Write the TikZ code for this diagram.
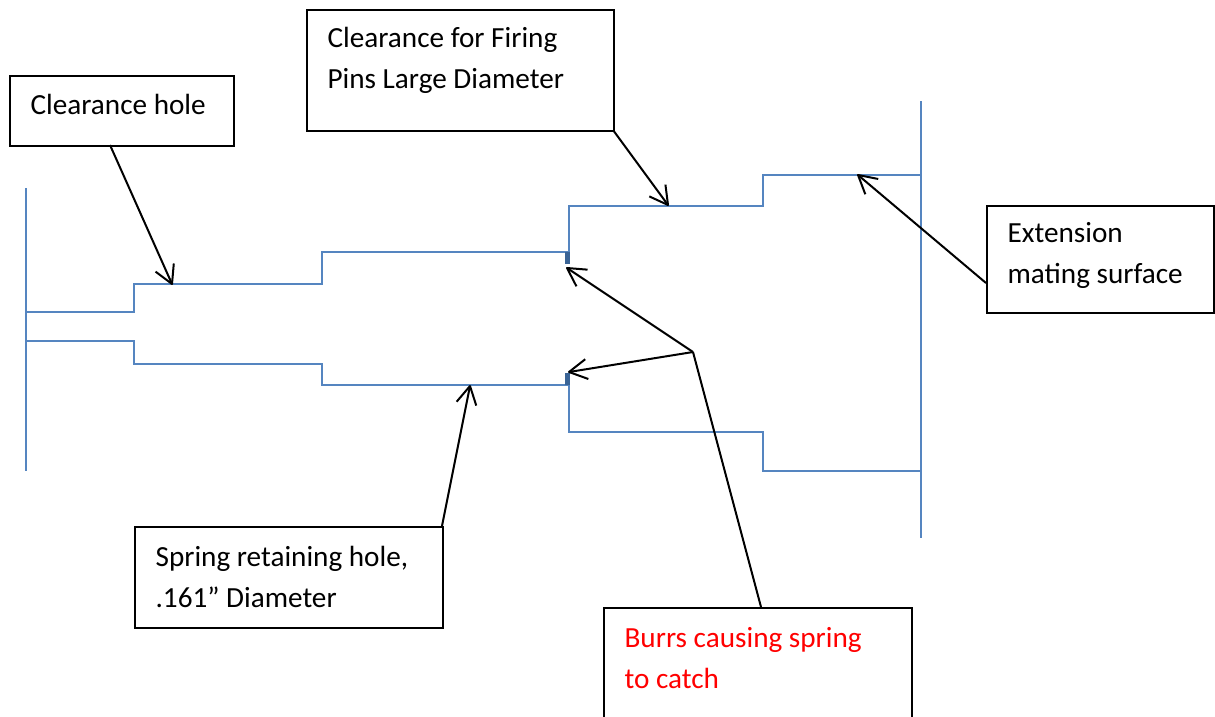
\documentclass[tikz,border=0pt]{standalone}
\usepackage{fontspec}
\setmainfont{Carlito}
\usetikzlibrary{arrows.meta}
\definecolor{wallblue}{HTML}{5585C0}
\definecolor{burrblue}{HTML}{3A6496}
\pgfdeclarearrow{
  name=Wing,
  defaults={length=18pt,width=20pt},
  parameters={\the\pgfarrowlength,\the\pgfarrowwidth},
  setup code={
    \pgfarrowssettipend{0pt}
    \pgfarrowssetlineend{-1pt}
    \pgfarrowssetbackend{-\pgfarrowlength}
    \pgfarrowshullpoint{0pt}{0pt}
    \pgfarrowshullpoint{-\pgfarrowlength}{0.5\pgfarrowwidth}
    \pgfarrowshullpoint{-\pgfarrowlength}{-0.5\pgfarrowwidth}
    \pgfarrowssavethe\pgfarrowlength
    \pgfarrowssavethe\pgfarrowwidth
  },
  drawing code={
    \pgfsetlinewidth{2pt}
    \pgfsetdash{}{0pt}
    \pgfsetroundjoin
    \pgfpathmoveto{\pgfqpoint{-\pgfarrowlength}{0.5\pgfarrowwidth}}
    \pgfpathlineto{\pgfqpoint{0pt}{0pt}}
    \pgfpathlineto{\pgfqpoint{-\pgfarrowlength}{-0.5\pgfarrowwidth}}
    \pgfusepathqstroke
  }
}
\begin{document}
\begin{tikzpicture}[x=1pt,y=-1pt,line width=1.2pt,>={Wing},
  lab/.style={draw=black,line width=2pt,rectangle,anchor=north west,inner sep=0pt},
  txt/.style={anchor=west,align=left,inner sep=0pt,font=\fontsize{29.2}{41}\selectfont},
  wall/.style={color=wallblue,line width=2.2pt},
  burr/.style={color=burrblue,line width=5pt},
  ptr/.style={color=black,line width=2pt}]
\useasboundingbox (0,0) rectangle (1215,717);
% walls and stepped bore
\draw[wall] (26,188) -- (26,471);
\draw[wall] (921,101) -- (921,538);
\draw[wall] (26,312) -- (134,312) -- (134,284) -- (322,284) -- (322,252) -- (569,252) -- (569,206) -- (763,206) -- (763,175) -- (921,175);
\draw[wall] (26,341) -- (134,341) -- (134,364) -- (322,364) -- (322,385) -- (569,385) -- (569,432) -- (763,432) -- (763,471) -- (921,471);
\draw[burr] (567.5,252) -- (567.5,264);
\draw[burr] (567.5,373) -- (567.5,385);
% boxes
\node[lab,minimum width=224pt,minimum height=70pt] (hole) at (8.8,74.8) {};
\node[lab,minimum width=307pt,minimum height=121pt] (firing) at (305.8,8.8) {};
\node[lab,minimum width=227pt,minimum height=107pt] (ext) at (985.8,204.5) {};
\node[lab,minimum width=308pt,minimum height=101pt] (spring) at (133.8,525.8) {};
\node[lab,minimum width=308pt,minimum height=115pt] (burrs) at (602.8,606.8) {};
\node[txt] (holetxt) at (30,104) {Clearance hole};
\node[txt] (firingtxt) at (327,60) {Clearance for Firing\\Pins Large Diameter};
\node[txt] (exttxt) at (1007,255) {Extension\\mating surface};
\node[txt] (springtxt) at (155,577) {Spring retaining hole,\\.161” Diameter};
\node[txt,color=red] (burrstxt) at (624,658) {Burrs causing spring\\to catch};
% arrow ends
\coordinate (a1) at (172,284);
\coordinate (a2) at (668,205);
\coordinate (a3) at (858,175);
\coordinate (a4) at (470,386);
\coordinate (a5) at (567,268);
\coordinate (a6) at (569,372);
\coordinate (knee) at (693,352);
\coordinate (s1) at (110,145);
\coordinate (s2) at (613,130);
\coordinate (s3) at (986,283);
\coordinate (s4) at (442,526);
\coordinate (s5) at (761,607);
\draw[ptr,->] (s1) -- (a1);
\draw[ptr,->] (s2) -- (a2);
\draw[ptr,->] (s3) -- (a3);
\draw[ptr,->] (s4) -- (a4);
\draw[ptr] (s5) -- (knee);
\draw[ptr,->] (knee) -- (a5);
\draw[ptr,->] (knee) -- (a6);
\end{tikzpicture}
\end{document}
